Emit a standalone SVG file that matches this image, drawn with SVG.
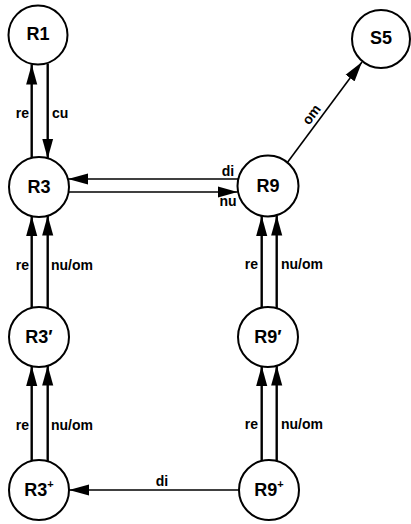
<svg xmlns="http://www.w3.org/2000/svg" width="411" height="524" viewBox="0 0 411 524">
  <style>
    .node circle { fill: #fff; stroke: #000; stroke-width: 2; }
    .node text { font-family: "Liberation Sans", Arial, sans-serif; font-weight: bold; font-size: 18px; text-anchor: middle; fill: #000; }
    .edge { stroke: #000; fill: none; }
    .v { stroke-width: 2.4; marker-end: url(#headV); }
    .h { stroke-width: 1.6; marker-end: url(#headH); }
    .lbl { font-family: "Liberation Sans", Arial, sans-serif; font-weight: bold; font-size: 14px; fill: #000; }
    .end { text-anchor: end; }
    .mid { text-anchor: middle; }
  </style>
  <defs>
    <marker id="headV" markerUnits="userSpaceOnUse" markerWidth="20" markerHeight="12" viewBox="0 0 18 10" refX="18" refY="5" orient="auto">
      <path d="M0,0 L18,5 L0,10 Z" fill="#000"/>
    </marker>
    <marker id="headH" markerUnits="userSpaceOnUse" markerWidth="20" markerHeight="12" viewBox="0 0 18 10" refX="18" refY="5" orient="auto">
      <path d="M0,0 L18,5 L0,10 Z" fill="#000"/>
    </marker>
  </defs>

  <!-- transitions -->
  <g id="connectors">
    <!-- R3 <-> R1 -->
    <line class="edge v" x1="31.7" y1="158" x2="31.7" y2="64.5"/>
    <line class="edge v" x1="47.7" y1="63.5" x2="47.7" y2="158.5"/>
    <text class="lbl end" x="29" y="118">re</text>
    <text class="lbl" x="52" y="118">cu</text>

    <!-- R3 <-> R9 -->
    <line class="edge h" x1="238" y1="179" x2="68" y2="179"/>
    <line class="edge h" x1="68.6" y1="192" x2="237.5" y2="192"/>
    <text class="lbl mid" x="228" y="176">di</text>
    <text class="lbl mid" x="228" y="206">nu</text>

    <!-- R9 -> S5 -->
    <line class="edge h" x1="287" y1="163" x2="362" y2="62"/>
    <text class="lbl mid" transform="translate(312,115) rotate(-53)" y="4">om</text>

    <!-- R3' -> R3 -->
    <line class="edge v" x1="31.7" y1="308.5" x2="31.7" y2="216"/>
    <line class="edge v" x1="47.7" y1="309.5" x2="47.7" y2="215.5"/>
    <text class="lbl end" x="29" y="270">re</text>
    <text class="lbl" x="51" y="270">nu/om</text>

    <!-- R9' -> R9 -->
    <line class="edge v" x1="261.7" y1="308.5" x2="261.7" y2="216"/>
    <line class="edge v" x1="276.7" y1="309.5" x2="276.7" y2="215.5"/>
    <text class="lbl end" x="258" y="269">re</text>
    <text class="lbl" x="281" y="269">nu/om</text>

    <!-- R3+ -> R3' -->
    <line class="edge v" x1="31.7" y1="461" x2="31.7" y2="366"/>
    <line class="edge v" x1="47.7" y1="462" x2="47.7" y2="365.5"/>
    <text class="lbl end" x="29" y="430">re</text>
    <text class="lbl" x="51" y="430">nu/om</text>

    <!-- R9+ -> R9' -->
    <line class="edge v" x1="261.7" y1="461" x2="261.7" y2="366"/>
    <line class="edge v" x1="276.7" y1="462" x2="276.7" y2="365.5"/>
    <text class="lbl end" x="258" y="429">re</text>
    <text class="lbl" x="281" y="429">nu/om</text>

    <!-- R9+ -> R3+ -->
    <line class="edge h" x1="240" y1="490" x2="69" y2="490"/>
    <text class="lbl mid" x="162" y="486">di</text>
  </g>

  <!-- states -->
  <g id="R1" class="node">
    <circle cx="38" cy="35" r="29.5"/>
    <text x="38" y="40">R1</text>
  </g>
  <g id="S5" class="node">
    <circle cx="381" cy="39" r="29"/>
    <text x="381" y="44">S5</text>
  </g>
  <g id="R3" class="node">
    <circle cx="39" cy="187" r="30"/>
    <text x="39" y="193">R3</text>
  </g>
  <g id="R9" class="node">
    <circle cx="268" cy="186" r="30.5"/>
    <text x="268" y="192">R9</text>
  </g>
  <g id="R3p" class="node">
    <circle cx="39" cy="337" r="30"/>
    <text x="39" y="343">R3′</text>
  </g>
  <g id="R9p" class="node">
    <circle cx="268" cy="337" r="30"/>
    <text x="268" y="343">R9′</text>
  </g>
  <g id="R3plus" class="node">
    <circle cx="39" cy="490" r="30"/>
    <text x="39" y="496">R3<tspan font-size="11px" dy="-8">+</tspan></text>
  </g>
  <g id="R9plus" class="node">
    <circle cx="269" cy="490" r="30"/>
    <text x="269" y="496">R9<tspan font-size="11px" dy="-8">+</tspan></text>
  </g>
</svg>
